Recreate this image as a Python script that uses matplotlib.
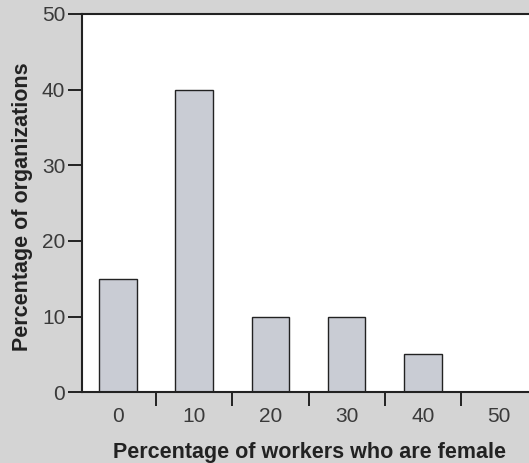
import matplotlib
matplotlib.use("Agg")
import matplotlib.pyplot as plt

categories = ["0", "10", "20", "30", "40", "50"]
values = [15, 40, 10, 10, 5, 0]
y_ticks = [0, 10, 20, 30, 40, 50]

plt.rcParams['font.family'] = ['Liberation Sans', 'DejaVu Sans']

fig = plt.figure(figsize=(5.29, 4.63), dpi=100, facecolor='#d4d4d4')
ax = fig.add_axes([0.155, 0.153, 0.845, 0.817])
ax.set_facecolor('white')

pos = list(range(len(categories)))
ax.bar(pos, values, width=0.49, color='#c9ccd4', edgecolor='#222222', linewidth=1.0, zorder=2)

ax.set_xlim(-0.47, 5.39)
ax.set_ylim(0, 50)
ax.set_yticks(y_ticks)
ax.set_yticklabels([str(v) for v in y_ticks], fontsize=15, color='#3a3a3a')

# ticks sit between categories, labels in the middle
ax.set_xticks([p + 0.5 for p in pos[:-1]])
ax.set_xticklabels([])
ax.set_xticks(pos, minor=True)
ax.set_xticklabels(categories, minor=True, fontsize=15, color='#3a3a3a')
ax.tick_params(axis='x', which='major', length=10, width=1.4, color='#222222', direction='out')
ax.tick_params(axis='x', which='minor', length=0, pad=11)
ax.tick_params(axis='y', length=10, width=1.4, color='#222222', pad=2)

ax.spines['right'].set_visible(False)
for s in ['left', 'bottom', 'top']:
    ax.spines[s].set_linewidth(1.5)
    ax.spines[s].set_color('#222222')

fig.text(0.586, 0.022, "Percentage of workers who are female", fontsize=15.5, fontweight='bold',
         color='#222222', ha='center', va='center')
fig.text(0.042, 0.553, "Percentage of organizations", fontsize=15.5, fontweight='bold',
         color='#222222', ha='center', va='center', rotation=90)

fig.savefig("out.png", dpi=100, facecolor=fig.get_facecolor())
